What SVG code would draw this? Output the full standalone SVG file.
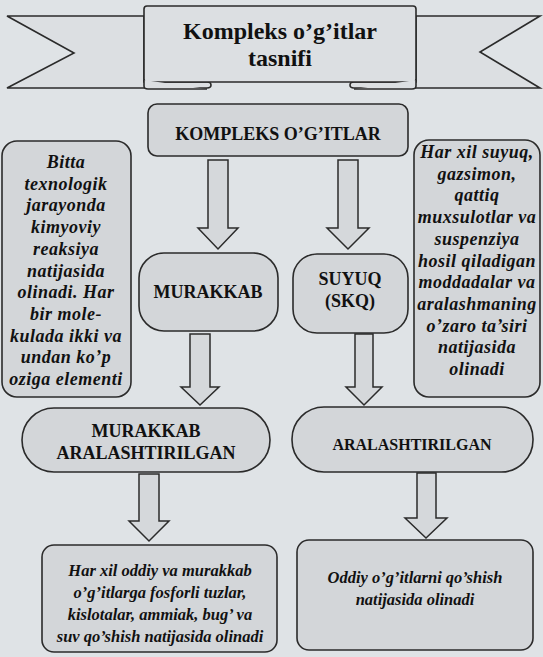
<svg xmlns="http://www.w3.org/2000/svg" width="543" height="657" viewBox="0 0 543 657">
  <style>
    .bg { fill: #dfe3e6; }
    .box { fill: #d3d6d9; stroke: #2b2b2b; stroke-width: 1.6; }
    .ribbon { fill: #dcdfe2; stroke: #2b2b2b; stroke-width: 1.6; stroke-linejoin: miter; }
    .arrow { fill: #d5d8db; stroke: #2b2b2b; stroke-width: 1.5; stroke-linejoin: miter; }
    text { font-family: "Liberation Serif", "DejaVu Serif", "Noto Serif", serif; font-weight: bold; fill: #111; text-anchor: middle; }
    .title { font-size: 24px; }
    .lbl { font-size: 18px; }
    .note { font-style: italic; font-size: 18px; letter-spacing: 0.5px; }
    .note2 { font-style: italic; font-size: 16.5px; }
  </style>

  <rect class="bg" x="0" y="0" width="543" height="657"/>

  <!-- title ribbon -->
  <g id="title">
    <path class="ribbon" d="M144,16 H7 L74,53 L7,88 H207 Q211,88 211,85 Q211,82 207,82 H144 Z"/>
    <path class="ribbon" d="M416,16 H540 L480,52 L540,88 H354 Q350,88 350,85 Q350,82 354,82 H416 Z"/>
    <rect class="ribbon" x="144" y="6" width="272" height="76" rx="3"/>
    <path class="ribbon" d="M144,80 V86 Q144,89 148,89 H207" fill="none"/>
    <path class="ribbon" d="M416,80 V86 Q416,89 412,89 H354" fill="none"/>
    <text class="title" x="280" y="39">Kompleks o’g’itlar</text>
    <text class="title" x="280" y="66">tasnifi</text>
  </g>

  <!-- connectors: block arrows -->
  <g id="connectors">
    <path class="arrow" d="M208,160 H228 V228 H238 L218,249 L198,228 H208 Z"/>
    <path class="arrow" d="M338,160 H358 V228 H369 L348,249 L327,228 H338 Z"/>
    <path class="arrow" d="M190,334 H210 V387 H219 L200,405 L181,387 H190 Z"/>
    <path class="arrow" d="M355,334 H373 V387 H382 L364,405 L346,387 H355 Z"/>
    <path class="arrow" d="M139,474 H159 V521 H169 L149,541 L129,521 H139 Z"/>
    <path class="arrow" d="M417,473 H436 V518 H447 L426,538 L405,518 H417 Z"/>
  </g>

  <g id="kompleks">
    <rect class="box" x="148" y="104" width="260" height="52" rx="9"/>
    <text class="lbl" x="278" y="140">KOMPLEKS O’G’ITLAR</text>
  </g>

  <g id="note-left">
    <rect class="box" x="2" y="141" width="129" height="256" rx="15"/>
    <text class="note" x="66" y="168">Bitta</text>
    <text class="note" x="66" y="189.7">texnologik</text>
    <text class="note" x="66" y="211.4">jarayonda</text>
    <text class="note" x="66" y="233.1">kimyoviy</text>
    <text class="note" x="66" y="254.8">reaksiya</text>
    <text class="note" x="66" y="276.5">natijasida</text>
    <text class="note" x="66" y="298.2">olinadi. Har</text>
    <text class="note" x="66" y="319.9">bir mole-</text>
    <text class="note" x="66" y="341.6">kulada ikki va</text>
    <text class="note" x="66" y="363.3">undan ko’p</text>
    <text class="note" x="66" y="385">oziga elementi</text>
  </g>

  <g id="note-right">
    <rect class="box" x="414" y="140" width="126" height="257" rx="15"/>
    <text class="note" x="477" y="158">Har xil suyuq,</text>
    <text class="note" x="477" y="179.7">gazsimon,</text>
    <text class="note" x="477" y="201.4">qattiq</text>
    <text class="note" x="477" y="223.1">muxsulotlar va</text>
    <text class="note" x="477" y="244.8">suspenziya</text>
    <text class="note" x="477" y="266.5">hosil qiladigan</text>
    <text class="note" x="477" y="288.2">moddadalar va</text>
    <text class="note" x="477" y="309.9">aralashmaning</text>
    <text class="note" x="477" y="331.6">o’zaro ta’siri</text>
    <text class="note" x="477" y="353.3">natijasida</text>
    <text class="note" x="477" y="375">olinadi</text>
  </g>

  <g id="murakkab">
    <rect class="box" x="139" y="253" width="139" height="78" rx="25"/>
    <text class="lbl" x="208" y="298">MURAKKAB</text>
  </g>

  <g id="suyuq">
    <rect class="box" x="293" y="254" width="115" height="79" rx="24"/>
    <text class="lbl" x="350" y="285">SUYUQ</text>
    <text class="lbl" x="350" y="307">(SKQ)</text>
  </g>

  <g id="murakkab-aralash">
    <rect class="box" x="22" y="408" width="248" height="64" rx="32"/>
    <text class="lbl" x="146" y="437">MURAKKAB</text>
    <text class="lbl" x="146" y="459">ARALASHTIRILGAN</text>
  </g>

  <g id="aralash">
    <rect class="box" x="292" y="407" width="241" height="65" rx="32"/>
    <text class="lbl" x="412" y="450" style="font-size:16px">ARALASHTIRILGAN</text>
  </g>

  <g id="result-left">
    <rect class="box" x="42" y="545" width="235" height="107" rx="12"/>
    <text class="note2" x="160" y="576">Har xil oddiy va murakkab</text>
    <text class="note2" x="160" y="598">o’g’itlarga fosforli tuzlar,</text>
    <text class="note2" x="160" y="620">kislotalar, ammiak, bug’ va</text>
    <text class="note2" x="160" y="642">suv qo’shish natijasida olinadi</text>
  </g>

  <g id="result-right">
    <rect class="box" x="297" y="540" width="236" height="110" rx="12"/>
    <text class="note2" x="415" y="583">Oddiy o’g’itlarni qo’shish</text>
    <text class="note2" x="415" y="605">natijasida olinadi</text>
  </g>
</svg>
